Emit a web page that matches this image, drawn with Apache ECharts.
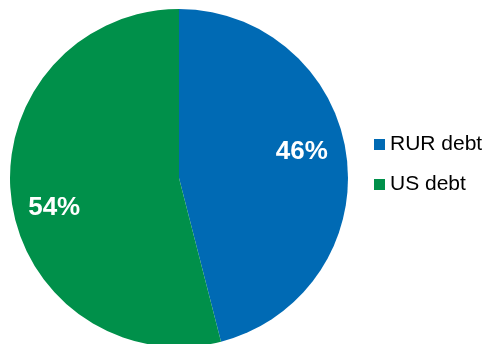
<!DOCTYPE html>
<html>
<head>
<meta charset="utf-8">
<script src="https://cdn.jsdelivr.net/npm/echarts@6/dist/echarts.min.js"></script>
<style>
  html, body { margin: 0; padding: 0; background: #fff; }
  #chart { width: 485px; height: 344px; }
</style>
</head>
<body>
<div id="chart"></div>
<script>
// Debt structure by currency
const categories = ['RUR debt', 'US debt'];
const shares = [46, 54];
const colors = ['#006AB4', '#00904A'];
// nudges that move each percentage label from the slice midpoint
const labelOffsets = [[36, -15], [-38, 19]];

const chart = echarts.init(document.getElementById('chart'), null, { renderer: 'canvas' });

chart.setOption({
  animation: false,
  backgroundColor: '#ffffff',
  legend: {
    orient: 'vertical',
    left: 369,
    top: 129,
    padding: 5,
    icon: 'rect',
    itemWidth: 11,
    itemHeight: 11,
    itemGap: 19,
    data: categories,
    textStyle: {
      fontFamily: 'Liberation Sans, Arial, sans-serif',
      fontSize: 21,
      lineHeight: 21,
      color: '#000000'
    }
  },
  series: [{
    type: 'pie',
    center: [179, 178],
    radius: 169,
    startAngle: 90,
    clockwise: true,
    avoidLabelOverlap: false,
    silent: true,
    itemStyle: { borderWidth: 0 },
    label: {
      show: true,
      position: 'inside',
      formatter: '{c}%',
      color: '#ffffff',
      fontFamily: 'Liberation Sans, Arial, sans-serif',
      fontWeight: 'bold',
      fontSize: 26
    },
    labelLine: { show: false },
    data: categories.map((name, i) => ({
      name: name,
      value: shares[i],
      itemStyle: { color: colors[i] },
      label: { offset: labelOffsets[i] }
    }))
  }]
});
</script>
</body>
</html>
